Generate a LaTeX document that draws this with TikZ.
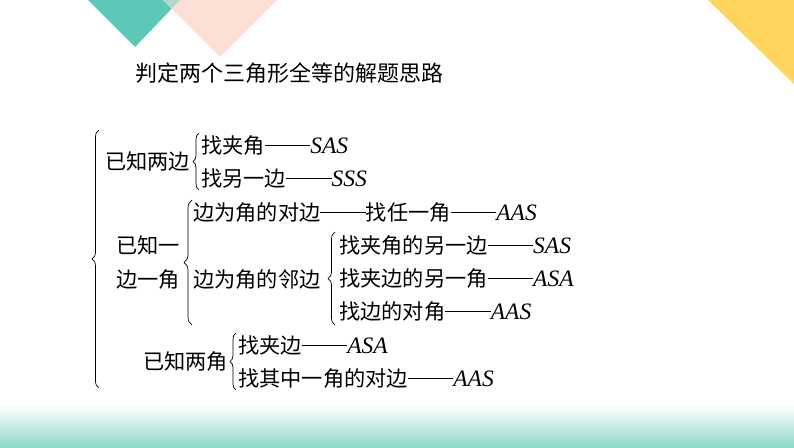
\documentclass[tikz,border=0pt]{standalone}
\usepackage{fontspec}
\setmainfont{Liberation Serif}
\newfontfamily\cjk{Noto Sans CJK SC}
\newfontfamily\tms{Liberation Serif}
\usetikzlibrary{decorations.pathreplacing}
\newcommand\la[1]{{\tms\itshape\fontsize{23.5}{23.5}\selectfont #1}}
\newcommand\dd{\rule[0.33em]{2.15em}{0.6pt}}
\definecolor{teal1}{HTML}{5BC8B8}
\definecolor{peach}{HTML}{FCE0D6}
\definecolor{ovl}{HTML}{B2D6C8}
\definecolor{yel}{HTML}{FFD55F}
\definecolor{band}{HTML}{8ED8C8}
\begin{document}
\begin{tikzpicture}[x=1pt,y=-1pt,
  txt/.style={anchor=west,inner sep=0pt,font=\cjk\fontsize{21.2}{34}\selectfont},
  brc/.style={decorate,decoration={brace,amplitude=#1},line width=0.7pt},
  brc/.default=6pt]
\useasboundingbox (0,0) rectangle (794,447);
% decorations
\fill[teal1] (88,0) -- (180,0) -- (135,47) -- cycle;
\fill[peach] (163,0) -- (277,0) -- (220,57) -- cycle;
\begin{scope}
\clip (88,0) -- (180,0) -- (135,47) -- cycle;
\fill[ovl] (163,0) -- (277,0) -- (220,57) -- cycle;
\end{scope}
\fill[yel] (708,0) -- (794,0) -- (794,84) -- cycle;
\shade[top color=white,bottom color=band] (0,405) rectangle (794,447);
% title
\node[txt,font=\cjk\fontsize{22}{22}\selectfont] (title) at (135,73) {判定两个三角形全等的解题思路};
% items
\node[txt] (t1) at (201,145) {找夹角\dd\la{SAS}};
\node[txt] (t2) at (201,178) {找另一边\dd\la{SSS}};
\node[txt] (t3) at (193,212) {边为角的对边\dd 找任一角\dd\la{AAS}};
\node[txt] (t4) at (339,245) {找夹角的另一边\dd\la{SAS}};
\node[txt] (t5) at (339,278) {找夹边的另一角\dd\la{ASA}};
\node[txt] (t6) at (339,311) {找边的对角\dd\la{AAS}};
\node[txt] (t7) at (238,345) {找夹边\dd\la{ASA}};
\node[txt] (t8) at (238,378) {找其中一角的对边\dd\la{AAS}};
% labels
\node[txt] (l1) at (105,161) {已知两边};
\node[txt] (l2a) at (116,245) {已知一};
\node[txt] (l2b) at (116,279) {边一角};
\node[txt] (l3) at (193,279) {边为角的邻边};
\node[txt] (l4) at (143,361) {已知两角};
% brace end points
\coordinate (b0t) at (99,130); \coordinate (b0b) at (99,388);
\coordinate (b1t) at (199,133); \coordinate (b1b) at (199,190);
\coordinate (b2t) at (192,200); \coordinate (b2b) at (192,325);
\coordinate (b3t) at (335,232); \coordinate (b3b) at (335,325);
\coordinate (b4t) at (236,333); \coordinate (b4b) at (236,390);
\draw[brc=7pt] (b0b) -- (b0t);
\draw[brc=6pt] (b1b) -- (b1t);
\draw[brc=8pt] (b2b) -- (b2t);
\draw[brc=7pt] (b3b) -- (b3t);
\draw[brc=6pt] (b4b) -- (b4t);
\end{tikzpicture}
\end{document}
